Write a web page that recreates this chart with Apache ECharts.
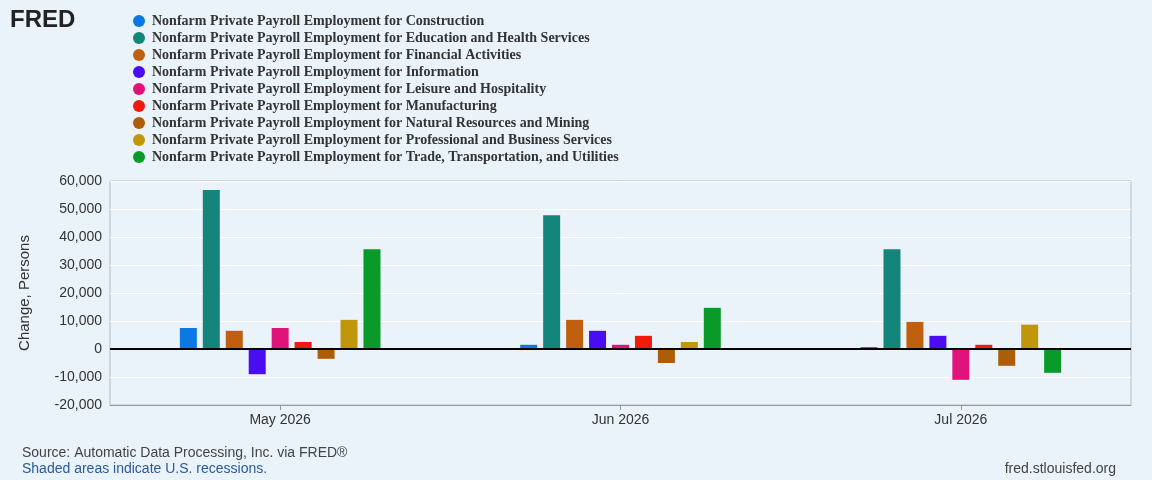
<!DOCTYPE html><html><head><meta charset="utf-8"><script src="https://cdn.jsdelivr.net/npm/echarts@6/dist/echarts.min.js"></script>
<style>body{margin:0;background:#eaf2fa}#c{width:1152px;height:480px}</style></head><body><div id="c"></div><script>
const categories=['May 2026','Jun 2026','Jul 2026'];
const names=['Construction','Education and Health Services','Financial Activities','Information','Leisure and Hospitality','Manufacturing','Natural Resources and Mining','Professional and Business Services','Trade, Transportation, and Utilities'];
const construction=[7500,1500,700];
const education=[56800,47800,35600];
const financial=[6500,10400,9700];
const information=[-9000,6500,4700];
const leisure=[7500,1500,-11000];
const manufacturing=[2500,4700,1500];
const natural=[-3500,-5000,-6000];
const professional=[10400,2500,8700];
const trade=[35600,14700,-8500];
const values=[construction,education,financial,information,leisure,manufacturing,natural,professional,trade];
const colors=['#0b78e3','#14857a','#c0600f','#4a0cf0','#e0137b','#f01c0b','#ad5c07','#c0960b','#0a9a2a'];
const ch=echarts.init(document.getElementById('c'));
ch.setOption({backgroundColor:'#eaf2fa',
graphic:[{type:'text',left:10,top:8,style:{text:'FRED',font:'bold 24px Arial',fill:'#222'}},
{type:'text',left:22,top:446,style:{text:'Source: Automatic Data Processing, Inc. via FRED®',font:'14px Arial',fill:'#444'}},
{type:'text',left:22,top:462,style:{text:'Shaded areas indicate U.S. recessions.',font:'14px Arial',fill:'#2a5a9a'}},
{type:'text',right:36,top:462,style:{text:'fred.stlouisfed.org',font:'14px Arial',fill:'#444'}}],
legend:{orient:'vertical',left:128,top:9,itemGap:3,itemWidth:12,itemHeight:13,icon:'circle',textStyle:{fontFamily:'Liberation Serif',fontWeight:'bold',fontSize:14,lineHeight:13,color:'#333',padding:[0,0,0,2]}},
grid:{left:110,right:21,top:181,bottom:75,show:true,borderColor:'#bbb',borderWidth:1},
xAxis:{type:'category',data:categories,axisTick:{show:true,alignWithLabel:true,length:5,lineStyle:{color:'#999'}},axisLine:{onZero:false,lineStyle:{color:'#999'}},axisLabel:{fontSize:14,color:'#333',margin:8}},
yAxis:{type:'value',min:-20000,max:60000,interval:10000,name:'Change, Persons',nameLocation:'middle',nameGap:78,nameTextStyle:{fontSize:15,color:'#333'},axisLabel:{fontSize:14,color:'#333',formatter:v=>v.toLocaleString('en-US')},splitLine:{lineStyle:{color:'#fff'}},axisLine:{show:false}},
series:values.map((d,i)=>({name:'Nonfarm Private Payroll Employment for '+names[i],type:'bar',data:d,barWidth:17,barGap:'35%',barCategoryGap:'28%',itemStyle:{color:colors[i]},
markLine:i==0?{symbol:'none',silent:true,label:{show:false},lineStyle:{color:'#000',width:2,type:'solid'},data:[{yAxis:0}]}:undefined}))
});
</script></body></html>
